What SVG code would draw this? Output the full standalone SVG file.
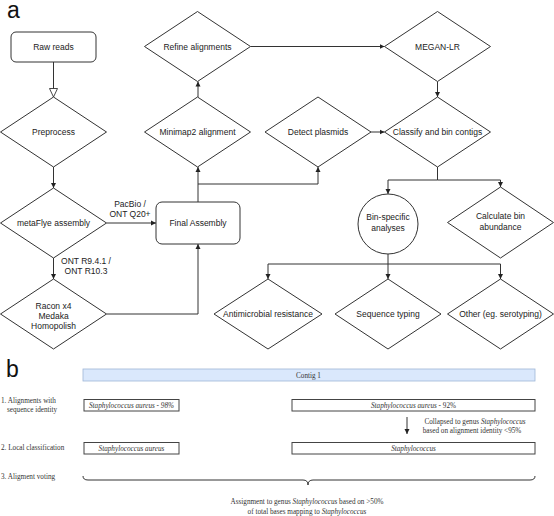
<svg xmlns="http://www.w3.org/2000/svg" width="554" height="516" viewBox="0 0 554 516">
<defs>
<style>
.n{fill:#fff;stroke:#333;stroke-width:1}
.t{font-family:"Liberation Sans",Arial,sans-serif;font-size:8.5px;fill:#222;text-anchor:middle}
.c{fill:none;stroke:#333;stroke-width:1}
.big{font-family:"Liberation Sans",Arial,sans-serif;font-size:23px;fill:#111}
.s{font-family:"Liberation Serif","Times New Roman",serif;font-size:7.2px;fill:#333}
.m{text-anchor:middle}
.box{fill:#fff;stroke:#444;stroke-width:1}
</style>
<marker id="arr" markerWidth="6" markerHeight="6" refX="5" refY="3" orient="auto" markerUnits="userSpaceOnUse">
<path d="M0,0.5 L5,3 L0,5.5 Z" fill="#222"/>
</marker>
<marker id="hol" markerWidth="10" markerHeight="10" refX="9" refY="4.5" orient="auto" markerUnits="userSpaceOnUse">
<path d="M0.5,0.5 L9,4.5 L0.5,8.5 Z" fill="#fff" stroke="#333" stroke-width="0.9"/>
</marker>
</defs>
<rect width="554" height="516" fill="#fff"/>
<text class="big" x="7" y="18">a</text>
<g id="connectors">
<line class="c" x1="53.5" y1="62" x2="53.5" y2="97" marker-end="url(#hol)"/>
<line class="c" x1="53.5" y1="167" x2="53.5" y2="188" marker-end="url(#arr)"/>
<line class="c" x1="53.5" y1="258" x2="53.5" y2="279" marker-end="url(#arr)"/>
<line class="c" x1="106.5" y1="223" x2="156" y2="223" marker-end="url(#arr)"/>
<path class="c" d="M106.5,314 H198 V244" marker-end="url(#arr)"/>
<line class="c" x1="198" y1="202" x2="198" y2="167" marker-end="url(#arr)"/>
<path class="c" d="M198,184 H318 V167" marker-end="url(#arr)"/>
<line class="c" x1="198" y1="97" x2="198" y2="81.5" marker-end="url(#arr)"/>
<line class="c" x1="250.5" y1="46.5" x2="384.5" y2="46.5" marker-end="url(#arr)"/>
<line class="c" x1="437.5" y1="81.5" x2="437.5" y2="97" marker-end="url(#arr)"/>
<line class="c" x1="371" y1="132" x2="384.5" y2="132" marker-end="url(#arr)"/>
<path class="c" d="M437.5,167 V180 H388 V194" marker-end="url(#arr)"/>
<path class="c" d="M437.5,180 H500.5 V187" marker-end="url(#arr)"/>
<path class="c" d="M388,254 V264 H268 V279" marker-end="url(#arr)"/>
<line class="c" x1="388" y1="264" x2="388" y2="279" marker-end="url(#arr)"/>
<path class="c" d="M388,264 H500.5 V279" marker-end="url(#arr)"/>
<text class="t" x="130" y="207">PacBio /</text>
<text class="t" x="130" y="217">ONT Q20+</text>
<text class="t" x="86" y="264">ONT R9.4.1 /</text>
<text class="t" x="86" y="274">ONT R10.3</text>
</g>
<g id="raw-reads"><rect class="n" x="11" y="32" width="85" height="30" rx="5"/><text class="t" x="53.5" y="50">Raw reads</text></g>
<g id="preprocess"><polygon class="n" points="0.5,132 53.5,97 106.5,132 53.5,167"/><text class="t" x="53.5" y="135">Preprocess</text></g>
<g id="metaflye"><polygon class="n" points="0.5,223 53.5,188 106.5,223 53.5,258"/><text class="t" x="53.5" y="226">metaFlye assembly</text></g>
<g id="racon"><polygon class="n" points="0.5,314 53.5,279 106.5,314 53.5,349"/><text class="t" x="53.5" y="309">Racon x4</text><text class="t" x="53.5" y="319">Medaka</text><text class="t" x="53.5" y="329">Homopolish</text></g>
<g id="final-assembly"><rect class="n" x="156" y="202" width="84" height="42" rx="6"/><text class="t" x="198" y="226">Final Assembly</text></g>
<g id="minimap2"><polygon class="n" points="144.5,132 197.5,97 250.5,132 197.5,167"/><text class="t" x="197.5" y="135">Minimap2 alignment</text></g>
<g id="refine"><polygon class="n" points="144.5,46.5 197.5,11.5 250.5,46.5 197.5,81.5"/><text class="t" x="197.5" y="50">Refine alignments</text></g>
<g id="detect-plasmids"><polygon class="n" points="265,132 318,97 371,132 318,167"/><text class="t" x="318" y="135">Detect plasmids</text></g>
<g id="megan"><polygon class="n" points="384.5,46.5 437.5,11.5 490.5,46.5 437.5,81.5"/><text class="t" x="437.5" y="50">MEGAN-LR</text></g>
<g id="classify"><polygon class="n" points="384.5,132 437.5,97 490.5,132 437.5,167"/><text class="t" x="437.5" y="135">Classify and bin contigs</text></g>
<g id="bin-specific"><circle class="n" cx="388" cy="224" r="30"/><text class="t" x="388" y="220">Bin-specific</text><text class="t" x="388" y="231">analyses</text></g>
<g id="calc-abundance"><polygon class="n" points="447.5,222.5 500.5,187 553.5,222.5 500.5,258"/><text class="t" x="500.5" y="219">Calculate bin</text><text class="t" x="500.5" y="230">abundance</text></g>
<g id="amr"><polygon class="n" points="214,314 268,279 322,314 268,349"/><text class="t" x="268" y="317">Antimicrobial resistance</text></g>
<g id="seq-typing"><polygon class="n" points="335,314 388,279 441,314 388,349"/><text class="t" x="388" y="317">Sequence typing</text></g>
<g id="other"><polygon class="n" points="447.5,314 500.5,279 553.5,314 500.5,349"/><text class="t" x="500.5" y="317">Other (eg. serotyping)</text></g>

<g id="panel-b">
<text class="big" x="6" y="377">b</text>
<rect x="83" y="369" width="452" height="12" fill="#dae8fc" stroke="#9fb6d6" stroke-width="0.8"/>
<text class="s" x="296" y="377.5">Contig 1</text>
<text class="s" x="1" y="403">1. Alignments with</text>
<text class="s" x="7" y="412">sequence identity</text>
<text class="s" x="1" y="450">2. Local classification</text>
<text class="s" x="1" y="479">3. Aligment voting</text>
<rect class="box" x="84" y="399.5" width="95" height="11.5"/>
<text class="s m" x="131.5" y="407.5" font-style="italic">Staphylococcus aureus - 98%</text>
<rect class="box" x="292" y="399.5" width="243" height="11.5"/>
<text class="s m" x="413.5" y="407.5"><tspan font-style="italic">Staphylococcus aureus</tspan> - 92%</text>
<line class="c" x1="407" y1="417" x2="407" y2="434" marker-end="url(#arr)"/>
<text class="s m" x="475" y="424">Collapsed to genus <tspan font-style="italic">Staphylococcus</tspan></text>
<text class="s m" x="472" y="433">based on alignment identity &lt;95%</text>
<rect class="box" x="84" y="442.5" width="95" height="11.5"/>
<text class="s m" x="131.5" y="450.5" font-style="italic">Staphylococcus aureus</text>
<rect class="box" x="292" y="442.5" width="243" height="11.5"/>
<text class="s m" x="413.5" y="450.5" font-style="italic">Staphylococcus</text>
<path class="c" d="M83,476 Q83,480 88,480 H303 Q308,480 308,485 Q308,480 313,480 H530 Q535,480 535,476"/>
<text class="s m" x="307" y="504">Assignment to genus <tspan font-style="italic">Staphylococcus</tspan> based on &gt;50%</text>
<text class="s m" x="307" y="514">of total bases mapping to <tspan font-style="italic">Staphylococcus</tspan></text>
</g>
</svg>
